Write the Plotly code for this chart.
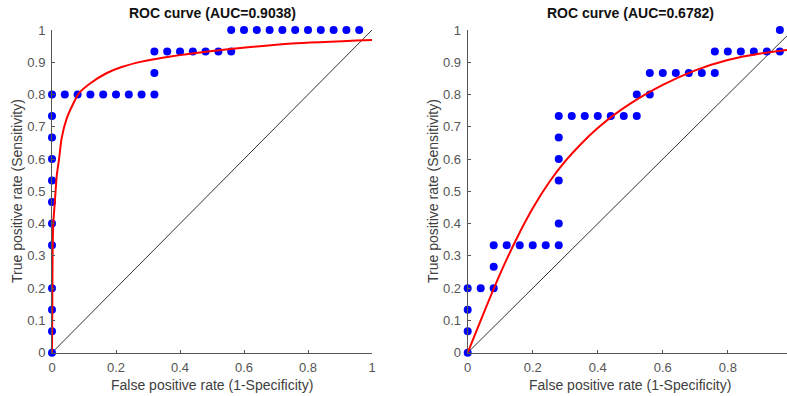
import plotly.graph_objects as go

W, H = 787, 396

# ---------------- data ----------------
# Left panel (AUC = 0.9038): empirical ROC points
left_fpr = [0, 0, 0, 0, 0, 0, 0, 0, 0, 0, 0, 0,
            0.04, 0.08, 0.12, 0.16, 0.20, 0.24, 0.28, 0.32,
            0.32, 0.32, 0.36, 0.40, 0.44, 0.48, 0.52, 0.56,
            0.56, 0.60, 0.64, 0.68, 0.72, 0.76, 0.80, 0.84, 0.88, 0.92, 0.96]
left_tpr = [0, 0.0667, 0.1333, 0.2, 0.3333, 0.4, 0.4667, 0.5333, 0.6, 0.6667, 0.7333, 0.8,
            0.8, 0.8, 0.8, 0.8, 0.8, 0.8, 0.8, 0.8,
            0.8667, 0.9333, 0.9333, 0.9333, 0.9333, 0.9333, 0.9333, 0.9333,
            1, 1, 1, 1, 1, 1, 1, 1, 1, 1, 1]
# Left panel fitted curve
left_fit_x = [0, 0.001, 0.002, 0.004, 0.009, 0.015, 0.022, 0.03, 0.046, 0.067, 0.085,
              0.12, 0.17, 0.22, 0.28, 0.35, 0.45, 0.55, 0.75, 1.0]
left_fit_y = [0, 0.15, 0.32, 0.40, 0.47, 0.55, 0.60, 0.664, 0.726, 0.773, 0.805,
              0.835, 0.866, 0.886, 0.902, 0.915, 0.929, 0.940, 0.958, 0.969]

# Right panel (AUC = 0.6782): empirical ROC points
right_fpr = [0, 0, 0, 0, 0.04, 0.08, 0.08, 0.08,
             0.12, 0.16, 0.20, 0.24, 0.28,
             0.28, 0.28, 0.28, 0.28, 0.28,
             0.32, 0.36, 0.40, 0.44, 0.48, 0.52,
             0.52, 0.56, 0.56, 0.60, 0.64, 0.68, 0.72, 0.76,
             0.76, 0.80, 0.84, 0.88, 0.92, 0.96, 0.96]
right_tpr = [0, 0.0667, 0.1333, 0.2, 0.2, 0.2, 0.2667, 0.3333,
             0.3333, 0.3333, 0.3333, 0.3333, 0.3333,
             0.4, 0.5333, 0.6, 0.6667, 0.7333,
             0.7333, 0.7333, 0.7333, 0.7333, 0.7333, 0.7333,
             0.8, 0.8, 0.8667, 0.8667, 0.8667, 0.8667, 0.8667, 0.8667,
             0.9333, 0.9333, 0.9333, 0.9333, 0.9333, 0.9333, 1]
# Right panel fitted curve
right_fit_x = [0, 0.05, 0.10, 0.15, 0.20, 0.25, 0.30, 0.35, 0.40, 0.45, 0.50,
               0.60, 0.70, 0.80, 0.90, 1.0]
right_fit_y = [0, 0.125, 0.245, 0.3525, 0.4475, 0.5275, 0.5935, 0.6485, 0.696, 0.737, 0.772,
               0.830, 0.875, 0.907, 0.927, 0.940]

diag = [0, 1]

titles = ["ROC curve (AUC=0.9038)", "ROC curve (AUC=0.6782)"]
xlabel = "False positive rate (1-Specificity)"
ylabel = "True positive rate (Sensitivity)"

y_ticks = [0, 0.1, 0.2, 0.3, 0.4, 0.5, 0.6, 0.7, 0.8, 0.9, 1]
y_ticktext = ["0", "0.1", "0.2", "0.3", "0.4", "0.5", "0.6", "0.7", "0.8", "0.9", "1"]
x_ticks = [0, 0.2, 0.4, 0.6, 0.8, 1]
x_ticktext = ["0", "0.2", "0.4", "0.6", "0.8", "1"]

# ---------------- styling ----------------
FONT = "Liberation Sans, Arial, sans-serif"
AX = "#555555"
BLUE = "#0000ff"
RED = "#ff0000"

fig = go.Figure()

for i, (fx, fy, px, py) in enumerate([
        (left_fit_x, left_fit_y, left_fpr, left_tpr),
        (right_fit_x, right_fit_y, right_fpr, right_tpr)]):
    xa = "x" if i == 0 else "x2"
    ya = "y" if i == 0 else "y2"
    fig.add_trace(go.Scatter(x=diag, y=diag, mode="lines", xaxis=xa, yaxis=ya,
                             line=dict(color="#333333", width=1), hoverinfo="skip"))
    fig.add_trace(go.Scatter(x=px, y=py, mode="markers", xaxis=xa, yaxis=ya,
                             marker=dict(color=BLUE, size=8, line=dict(width=0)),
                             cliponaxis=False))
    fig.add_trace(go.Scatter(x=fx, y=fy, mode="lines", xaxis=xa, yaxis=ya,
                             line=dict(color=RED, width=2, shape="spline", smoothing=0.6)))

common_axis = dict(showline=True, linecolor=AX, linewidth=1, ticks="inside", ticklen=3,
                   tickcolor=AX, showgrid=False, zeroline=False, mirror=False,
                   tickfont=dict(family=FONT, size=13, color=AX), automargin=False,
                   ticklabelstandoff=3)

y_dom = [(H - 352.7) / H, (H - 30) / H]
fig.update_layout(
    width=W, height=H, margin=dict(l=0, r=0, t=0, b=0),
    paper_bgcolor="white", plot_bgcolor="white", showlegend=False,
    xaxis=dict(domain=[52 / W, 372 / W], range=[0, 1], tickvals=x_ticks, ticktext=x_ticktext,
               anchor="y", **common_axis),
    yaxis=dict(domain=y_dom, range=[0, 1], tickvals=y_ticks, ticktext=y_ticktext,
               anchor="x", **common_axis),
    xaxis2=dict(domain=[467.7 / W, 1.0], range=[0, 0.982], tickvals=x_ticks, ticktext=x_ticktext,
                anchor="y2", **common_axis),
    yaxis2=dict(domain=y_dom, range=[0, 1], tickvals=y_ticks, ticktext=y_ticktext,
                anchor="x2", **common_axis),
)

ann = []
for xr, t in [("x", titles[0]), ("x2", titles[1])]:
    ann.append(dict(text="<b>" + t + "</b>", x=0.5, xref=xr, y=(H - 13) / H, yref="paper",
                    showarrow=False, xanchor="center", yanchor="middle",
                    font=dict(family=FONT, size=14, color="#111111")))
for cx in [212, 630]:
    ann.append(dict(text=xlabel, x=cx / W, xref="paper", y=(H - 385) / H, yref="paper",
                    showarrow=False, xanchor="center", yanchor="middle",
                    font=dict(family=FONT, size=14, color="#404040")))
for cx in [17, 433]:
    ann.append(dict(text=ylabel, x=cx / W, xref="paper", y=(H - 191) / H, yref="paper",
                    showarrow=False, xanchor="center", yanchor="middle", textangle=-90,
                    font=dict(family=FONT, size=14, color="#404040")))
fig.update_layout(annotations=ann)

fig.write_html("out.html")
